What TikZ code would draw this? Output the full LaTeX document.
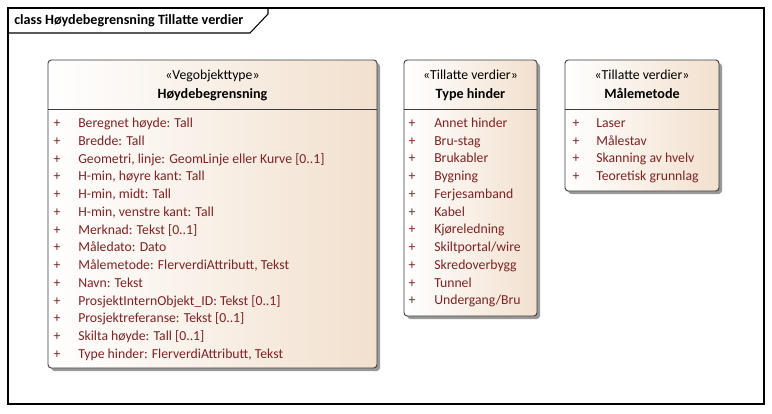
\documentclass[tikz,border=0pt]{standalone}
\usepackage{fontspec}
\setmainfont{Carlito}
\definecolor{boxr}{RGB}{242,224,206}
\definecolor{attrc}{RGB}{125,35,35}
\definecolor{edge}{RGB}{60,60,60}
\tikzset{
  px/.style={x=0.75pt,y=-0.75pt},
  umlbox/.style={draw=edge, line width=0.7pt, rounded corners=2.5pt, left color=white, right color=boxr, anchor=north west, inner sep=0pt, outer sep=0pt},
  umlshadow/.style={fill=black!40, rounded corners=2.5pt, anchor=north west, inner sep=0pt, outer sep=0pt},
  stereo/.style={anchor=base, inner sep=0pt, font=\fontsize{10.3}{12}\selectfont},
  cname/.style={anchor=base, inner sep=0pt, font=\fontsize{10.6}{12}\selectfont\bfseries},
  attr/.style={anchor=base west, inner sep=0pt, text=attrc, font=\fontsize{10.3}{12}\selectfont},
  vis/.style={anchor=base, inner sep=0pt, text=attrc, font=\fontsize{10.3}{12}\selectfont},
  divider/.style={draw=edge, line width=0.7pt},
}
\begin{document}
\begin{tikzpicture}[px]
\useasboundingbox (0,0) rectangle (772,414);
% frame
\coordinate (fTL) at (8,8);
\coordinate (fBR) at (764,404);
\draw[line width=0.8pt, black] (fTL) rectangle (fBR);
\coordinate (tabA) at (268,8);
\coordinate (tabB) at (268,14);
\coordinate (tabC) at (250,33);
\coordinate (tabD) at (8,33);
\draw[line width=0.8pt, black] (tabA) -- (tabB) -- (tabC) -- (tabD);
\node[anchor=base west, inner sep=0pt, font=\fontsize{10.6}{12}\selectfont\bfseries] (title) at (14,24.5) {class Høydebegrensning Tillatte verdier};

% shadows
\node[umlshadow, minimum width=246.75pt, minimum height=231pt] (shA) at (51,63) {};
\node[umlshadow, minimum width=99.75pt, minimum height=192pt] (shB) at (407,63) {};
\node[umlshadow, minimum width=115.5pt, minimum height=98.25pt] (shC) at (568,63) {};

% main class
\node[umlbox, minimum width=246.75pt, minimum height=231pt] (hb) at (48,60) {};
\draw[divider] (48,109) -- (377,109);
\node[stereo] (hbst) at (212.5,79) {«Vegobjekttype»};
\node[cname] (hbnm) at (212.5,98.5) {Høydebegrensning};
\foreach \t [count=\i from 0] in {Beregnet høyde: Tall, Bredde: Tall, {Geometri, linje: GeomLinje eller Kurve [0..1]}, {H-min, høyre kant: Tall}, {H-min, midt: Tall}, {H-min, venstre kant: Tall}, {Merknad: Tekst [0..1]}, Måledato: Dato, {Målemetode: FlerverdiAttributt, Tekst}, Navn: Tekst, {ProsjektInternObjekt\_ID: Tekst [0..1]}, {Prosjektreferanse: Tekst [0..1]}, {Skilta høyde: Tall [0..1]}, {Type hinder: FlerverdiAttributt, Tekst}} {
  \node[vis] (hbv\i) at (57,127.5+17.77*\i) {+};
  \node[attr] (hba\i) at (78,127.5+17.77*\i) {\t};
}

% Type hinder
\node[umlbox, minimum width=99.75pt, minimum height=192pt] (th) at (404,60) {};
\draw[divider] (404,109) -- (537,109);
\node[stereo] (thst) at (470.5,79) {«Tillatte verdier»};
\node[cname] (thnm) at (470.5,98.5) {Type hinder};
\foreach \t [count=\i from 0] in {Annet hinder, Bru-stag, Brukabler, Bygning, Ferjesamband, Kabel, Kjøreledning, Skiltportal/wire, Skredoverbygg, Tunnel, Undergang/Bru} {
  \node[vis] (thv\i) at (412,127.5+17.73*\i) {+};
  \node[attr] (tha\i) at (434,127.5+17.73*\i) {\t};
}

% Målemetode
\node[umlbox, minimum width=115.5pt, minimum height=98.25pt] (mm) at (565,60) {};
\draw[divider] (565,109) -- (719,109);
\node[stereo] (mmst) at (642,79) {«Tillatte verdier»};
\node[cname] (mmnm) at (642,98.5) {Målemetode};
\foreach \t [count=\i from 0] in {Laser, Målestav, Skanning av hvelv, Teoretisk grunnlag} {
  \node[vis] (mmv\i) at (576,127.5+17.73*\i) {+};
  \node[attr] (mma\i) at (596,127.5+17.73*\i) {\t};
}
\end{tikzpicture}
\end{document}
